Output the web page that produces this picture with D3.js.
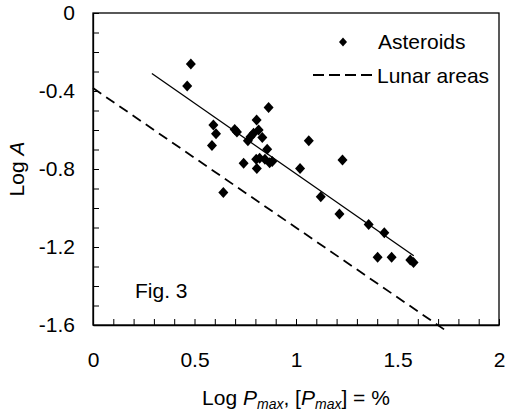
<!DOCTYPE html>
<html>
<head>
<meta charset="utf-8">
<script src="https://cdn.jsdelivr.net/npm/d3@7"></script>
<style>
    body { margin: 0; background: #fff; }
    svg { display: block; font-family: "Liberation Sans", Arial, sans-serif; }
</style>
</head>
<body>
<div id="chart"></div>
<script>
// asteroid measurements (Log Pmax, Log A)
const asteroidX = [0.482, 0.464, 0.593, 0.606, 0.586, 0.642, 0.698, 0.709, 0.742, 0.763,
                   0.776, 0.791, 0.806, 0.816, 0.804, 0.807, 0.821, 0.834, 0.858, 0.865,
                   0.847, 0.870, 0.883, 1.020, 1.063, 1.122, 1.229, 1.214, 1.358, 1.435,
                   1.402, 1.471, 1.563, 1.579];
const asteroidY = [-0.262, -0.374, -0.574, -0.619, -0.679, -0.921, -0.597, -0.610, -0.771, -0.655,
                   -0.634, -0.617, -0.549, -0.600, -0.750, -0.797, -0.745, -0.639, -0.699, -0.484,
                   -0.750, -0.768, -0.762, -0.797, -0.655, -0.942, -0.754, -1.031, -1.084, -1.127,
                   -1.253, -1.253, -1.267, -1.279];

// fitted line through asteroids and the lunar areas line (end points)
const fitLine = [[0.29, -0.31], [1.58, -1.245]];
const lunarLine = [[0, -0.385], [1.74, -1.63]];

const xTicks = [0, 0.5, 1, 1.5, 2];
const yTicks = [0, -0.4, -0.8, -1.2, -1.6];

const width = 505, height = 415;
const margin = { top: 13, right: 6, bottom: 90, left: 93 };
const fontSize = '21px';

const svg = d3.select('#chart').append('svg')
    .attr('width', width)
    .attr('height', height);

const x = d3.scaleLinear().domain([0, 2]).range([margin.left, width - margin.right]);
const y = d3.scaleLinear().domain([-1.6, 0]).range([height - margin.bottom, margin.top]);

const minorX = d3.range(0, 2.001, 0.1);
const minorY = d3.range(0, -1.601, -0.1);
const isMajor = (v, list) => list.some(t => Math.abs(t - v) < 1e-6);

// frame
svg.append('rect')
    .attr('x', x(0)).attr('y', y(0))
    .attr('width', x(2) - x(0)).attr('height', y(-1.6) - y(0))
    .attr('fill', 'none').attr('stroke', '#000').attr('stroke-width', 1.3);

const xAxis = svg.append('g')
    .attr('transform', `translate(0,${y(-1.6)})`)
    .call(d3.axisBottom(x).tickValues(minorX).tickSizeInner(-6).tickSizeOuter(0).tickPadding(27)
        .tickFormat(d => isMajor(d, xTicks) ? d3.format('~g')(+d.toFixed(1)) : ''));

const yAxis = svg.append('g')
    .attr('transform', `translate(${x(0)},0)`)
    .call(d3.axisLeft(y).tickValues(minorY).tickSizeInner(-6).tickSizeOuter(0).tickPadding(18)
        .tickFormat(d => isMajor(d, yTicks) ? (+d.toFixed(1)).toString() : ''));

[xAxis, yAxis].forEach(g => {
    g.select('.domain').attr('stroke', '#000').attr('stroke-width', 1.3);
    g.selectAll('.tick line').attr('stroke', '#000').attr('stroke-width', 1);
    g.selectAll('.tick text').attr('fill', '#000')
        .style('font-size', fontSize).style('font-family', '"Liberation Sans", Arial, sans-serif');
});

const line = d3.line().x(d => x(d[0])).y(d => y(d[1]));

svg.append('path')
    .attr('d', line(lunarLine))
    .attr('fill', 'none').attr('stroke', '#000')
    .attr('stroke-width', 1.8).attr('stroke-dasharray', '10,6');

svg.append('path')
    .attr('d', line(fitLine))
    .attr('fill', 'none').attr('stroke', '#000').attr('stroke-width', 1.3);

const diamond = 'M0,-5.5L5,0L0,5.5L-5,0Z';
svg.append('g')
    .selectAll('path')
    .data(asteroidX.map((v, i) => [v, asteroidY[i]]))
    .enter().append('path')
    .attr('d', diamond)
    .attr('transform', d => `translate(${x(d[0])},${y(d[1])})`)
    .attr('fill', '#000');

// legend
const legend = svg.append('g').style('font-size', fontSize);
legend.append('path')
    .attr('d', 'M0,-4.5L4,0L0,4.5L-4,0Z')
    .attr('transform', 'translate(343,42)')
    .attr('fill', '#000');
legend.append('text').attr('x', 378).attr('y', 49).text('Asteroids');
legend.append('line')
    .attr('x1', 313).attr('x2', 374).attr('y1', 75).attr('y2', 75)
    .attr('stroke', '#000').attr('stroke-width', 1.8).attr('stroke-dasharray', '11,5');
legend.append('text').attr('x', 377).attr('y', 83).text('Lunar areas');

svg.append('text')
    .attr('x', 135).attr('y', 298)
    .style('font-size', fontSize)
    .text('Fig. 3');

// axis titles
const xTitle = svg.append('text')
    .attr('x', (x(0) + x(2)) / 2).attr('y', 405)
    .attr('text-anchor', 'middle')
    .style('font-size', fontSize);
xTitle.append('tspan').text('Log ');
xTitle.append('tspan').attr('font-style', 'italic').text('P');
xTitle.append('tspan').attr('font-style', 'italic').attr('font-size', '14px').attr('dy', 4).text('max');
xTitle.append('tspan').attr('dy', -4).text(',  [');
xTitle.append('tspan').attr('font-style', 'italic').text('P');
xTitle.append('tspan').attr('font-style', 'italic').attr('font-size', '14px').attr('dy', 4).text('max');
xTitle.append('tspan').attr('dy', -4).text('] = %');

const yTitle = svg.append('text')
    .attr('transform', `translate(24,${(y(0) + y(-1.6)) / 2}) rotate(-90)`)
    .attr('text-anchor', 'middle')
    .style('font-size', fontSize);
yTitle.append('tspan').text('Log ');
yTitle.append('tspan').attr('font-style', 'italic').text('A');
</script>
</body>
</html>
